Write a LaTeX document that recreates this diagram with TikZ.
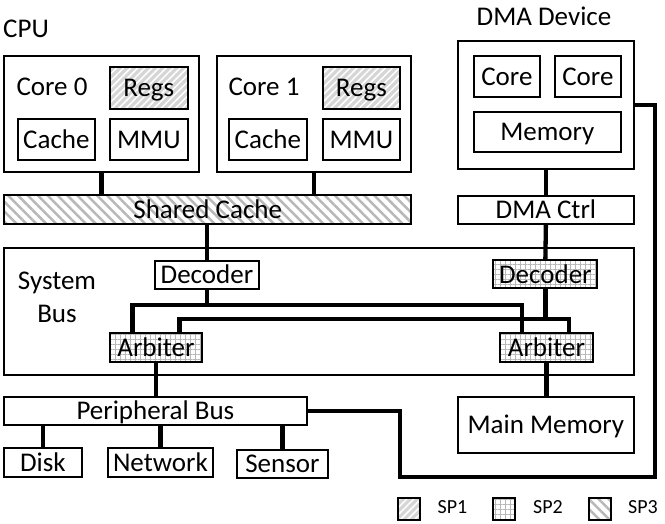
\documentclass[tikz,border=0pt]{standalone}
\usepackage{fontspec}
\setmainfont{Carlito}
\usetikzlibrary{patterns.meta,calc}
\definecolor{hatchgray}{gray}{0.72}
\definecolor{sponegray}{gray}{0.84}
\begin{document}
\begin{tikzpicture}[x=1pt,y=-1pt,
  corners/.style n args={4}{at={(#1,#2)}, minimum width={(#3)-(#1)}, minimum height={(#4)-(#2)}},
  box/.style={draw, line width=1.8pt, inner sep=0pt, anchor=north west,
    text height=17.4pt, text depth=0pt, font=\fontsize{27}{32}\selectfont},
  lbl/.style={inner sep=0pt, text height=17.4pt, text depth=0pt, font=\fontsize{27}{32}\selectfont},
  leglbl/.style={inner sep=0pt, text height=12.9pt, text depth=0pt, font=\fontsize{20}{24}\selectfont},
  sp1/.style={preaction={fill=sponegray}, pattern={Lines[angle=45,distance=5pt,line width=1.5pt]}, pattern color=white},
  sp2/.style={pattern={Hatch[angle=0,distance=5pt,line width=0.7pt]}, pattern color=hatchgray},
  sp3/.style={pattern={Lines[angle=-45,distance=7pt,line width=2.5pt]}, pattern color=hatchgray},
  conn/.style={line width=4.3pt}]
\useasboundingbox (0,0) rectangle (665,524);

% CPU
\node[lbl, anchor=west] (cpulbl) at (3,29) {CPU};
\node[box, corners={3}{55}{198}{171}] (core0) {};
\node[lbl] (core0lbl) at (52,87) {Core 0};
\node[box, sp1, corners={109}{66}{187}{108}] (regs0) {Regs};
\node[box, corners={17}{118}{94}{159}] (cache0) {Cache};
\node[box, corners={109}{118}{187}{159}] (mmu0) {MMU};

\node[box, corners={216}{55}{410}{171}] (core1) {};
\node[lbl] (core1lbl) at (264,87) {Core 1};
\node[box, sp1, corners={322}{66}{399}{108}] (regs1) {Regs};
\node[box, corners={228}{118}{306}{159}] (cache1) {Cache};
\node[box, corners={322}{118}{399}{159}] (mmu1) {MMU};

\node[box, sp3, corners={3}{194}{410}{223}] (shared) {Shared Cache};

% DMA device
\node[lbl] (dmalbl) at (544,16.5) {DMA Device};
\node[box, corners={457}{40}{633}{168}] (dma) {};
\node[box, corners={473}{55}{539}{96}] (dcore1) {Core};
\node[box, corners={554}{55}{620}{96}] (dcore2) {Core};
\node[box, corners={473}{111}{620}{151}] (dmem) {Memory};
\node[box, corners={457}{195}{633}{223}] (dmactrl) {DMA Ctrl};

% System bus
\node[box, corners={3}{247}{633}{374}] (sysbus) {};
\node[inner sep=0pt, align=center, anchor=north, font=\fontsize{27}{33}\selectfont] (syslbl) at (57,272) {System\\Bus};
\node[box, corners={154}{260}{258}{288}] (dec1) {Decoder};
\node[box, sp2, corners={493}{260}{597}{288}] (dec2) {Decoder};
\node[box, sp2, corners={109}{332}{201}{361}] (arb1) {Arbiter};
\node[box, sp2, corners={499}{332}{592}{361}] (arb2) {Arbiter};

% Lower part
\node[box, corners={3}{396}{306}{424}] (periph) {Peripheral Bus};
\node[box, corners={457}{396}{633}{452}] (mainmem) {Main Memory};
\node[box, corners={3}{447}{81}{476}] (disk) {Disk};
\node[box, corners={107}{447}{212}{476}] (network) {Network};
\node[box, corners={236}{449}{327}{477}] (sensor) {Sensor};

% Legend
\node[box, sp1, corners={397}{497}{419}{519}] (leg1) {};
\node[leglbl] (leg1lbl) at (452.5,507) {SP1};
\node[box, sp2, corners={492}{497}{514}{519}] (leg2) {};
\node[leglbl] (leg2lbl) at (548,507) {SP2};
\node[box, sp3, corners={588}{497}{610}{519}] (leg3) {};
\node[leglbl] (leg3lbl) at (643,507) {SP3};

% Connectors
\draw[conn] (core0.south) -- (core0.south |- shared.north);
\draw[conn] (core1.south) -- (core1.south |- shared.north);
\draw[conn] (dec1.north |- shared.south) -- (dec1.north);
\draw[conn] (dma.south) -- (dmactrl.north);
\draw[conn] (dmactrl.south) -- (dec2.north);

\coordinate (j1) at ($(dec1.south)+(0,15)$);
\coordinate (j2) at ($(dec2.south)+(0,30)$);
\draw[conn] (dec1.south) -- (j1);
\draw[conn] ($(arb1.north west)!0.25!(arb1.north east)$) |- (j1) -| ($(arb2.north west)!0.24!(arb2.north east)$);
\draw[conn] (dec2.south) -- (j2);
\draw[conn] ($(arb1.north west)!0.75!(arb1.north east)$) |- (j2) -| ($(arb2.north west)!0.74!(arb2.north east)$);

\draw[conn] (arb1.south) -- (arb1.south |- periph.north);
\draw[conn] (arb2.south) -- (arb2.south |- mainmem.north);
\draw[conn] (disk.north) -- (disk.north |- periph.south);
\draw[conn] (network.north) -- (network.north |- periph.south);
\draw[conn] (sensor.north) -- (sensor.north |- periph.south);

\coordinate (bendA) at (400,477);
\coordinate (bendB) at (655,477);
\draw[conn] (periph.east) -| (bendA) -- (bendB) |- (dma.east);
\end{tikzpicture}
\end{document}
